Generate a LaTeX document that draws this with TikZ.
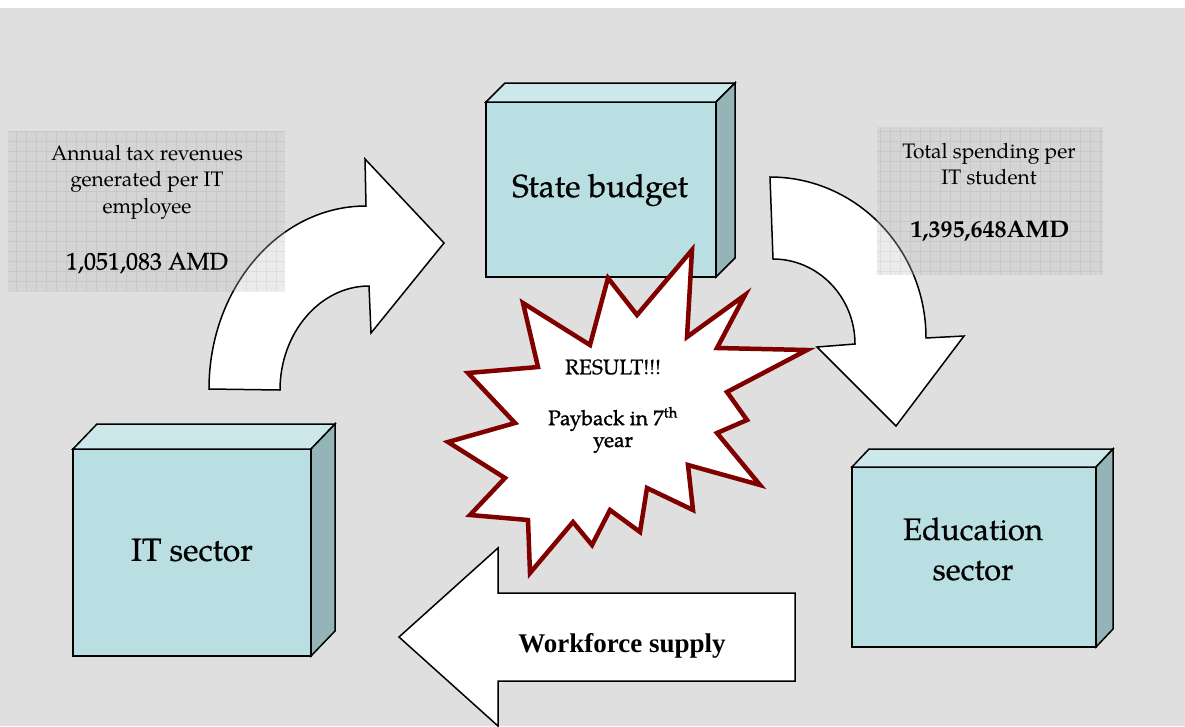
\documentclass[tikz,border=0pt]{standalone}
\usepackage{fontspec}
\setmainfont{TeX Gyre Pagella}
\newfontfamily\heavyfont{TeX Gyre Pagella}[FakeBold=0.6]
\newfontfamily\heavierfont{TeX Gyre Pagella}[FakeBold=1.2]
\newfontfamily\timesfont{Liberation Serif}
\usetikzlibrary{calc}

\definecolor{canvas}{HTML}{DFDFDF}
\definecolor{cubefront}{HTML}{B9DFE3}
\definecolor{cubetop}{HTML}{CCE8EB}
\definecolor{cubeside}{HTML}{94B4B7}
\definecolor{burst}{HTML}{800000}

\tikzset{
  face/.style={draw=black, line width=1.5pt, line join=miter},
  frontface/.style={face, fill=cubefront, rectangle, inner sep=0pt, outer sep=0pt},
  bigarrow/.style={draw=black, fill=white, line width=1.5pt, line join=miter},
  infobox/.style={rectangle, inner sep=0pt, outer sep=0pt, fill=black!25, fill opacity=0.3,
    path picture={\draw[black, line width=0.5pt, draw opacity=0.06]
      (path picture bounding box.south west) grid[step=10pt] (path picture bounding box.north east);}},
  cubelabel/.style={font=\heavyfont\fontsize{32}{38}\selectfont, align=center, inner sep=0pt},
  infotext/.style={font=\fontsize{21}{26.5}\selectfont, align=center, inner sep=0pt},
  burstline/.style={draw=burst, fill=white, line width=4.5pt, line join=miter},
  bursttext/.style={font=\heavyfont\fontsize{21}{24}\selectfont, align=center, inner sep=0pt}
}

% draws the top and right faces of a box whose front face is node #1
\newcommand{\cubedepth}[3]{%
  \draw[face, fill=cubetop] (#1.north west) -- ++(#2,-#3) -- ($(#1.north east)+(#2,-#3)$) -- (#1.north east) -- cycle;
  \draw[face, fill=cubeside] (#1.north east) -- ++(#2,-#3) -- ($(#1.south east)+(#2,-#3)$) -- (#1.south east) -- cycle;
}

\begin{document}
\begin{tikzpicture}[x=1pt, y=-1pt]
\useasboundingbox (0,0) rectangle (1185,726);
\fill[white] (0,0) rectangle (1185,726);
\fill[canvas] (0,8) rectangle (1185,726);

% curved arrow from the IT sector up to the state budget
\draw[bigarrow] (209,389) .. controls (209,288) and (279,206) .. (366,206)
  -- (365,159) -- (444,243) -- (371,333) -- (369,286)
  .. controls (320,286) and (280,333) .. (280,390) -- cycle;

% curved arrow from the state budget down to education
\draw[bigarrow] (770,177) .. controls (856,177) and (926,249) .. (926,338)
  -- (964,336) -- (896,426) -- (817,347) -- (855,344)
  .. controls (855,297) and (818,259) .. (773,259) -- cycle;

% straight arrow from education back to the IT sector
\draw[bigarrow] (399,637) -- (498,548) -- (498,593) -- (795,593) -- (795,681)
  -- (498,681) -- (498,726) -- cycle;
\node[font=\timesfont\bfseries\fontsize{27}{30}\selectfont, inner sep=0pt] (workforce) at (622,646) {Workforce supply};

% information panels
\node[infobox, minimum width=277pt, minimum height=160pt] (taxinfo) at (146.5,211) {};
\node[infobox, minimum width=226pt, minimum height=148pt] (costinfo) at (990,201) {};
\node[infotext] (taxtext) at (147,182) {Annual tax revenues\\generated per IT\\employee};
\node[infotext, font=\heavyfont\fontsize{24}{28}\selectfont] (taxvalue) at (147,263) {1,051,083 AMD};
\node[infotext] (costtext) at (989,164) {Total spending per\\IT student};
\node[infotext, font=\bfseries\fontsize{24}{28}\selectfont] (costvalue) at (990,231) {1,395,648AMD};

% boxes
\node[frontface, minimum width=230pt, minimum height=175pt] (budget) at (601,189.5) {};
\cubedepth{budget}{19}{19}
\node[cubelabel] (budgetlabel) at (600,190) {State budget};

\node[frontface, minimum width=238pt, minimum height=207pt] (itsector) at (192,552.5) {};
\cubedepth{itsector}{24}{25}
\node[cubelabel] (itlabel) at (192,550) {IT sector};

\node[frontface, minimum width=244pt, minimum height=180pt] (education) at (974,557) {};
\cubedepth{education}{17}{18}
\node[cubelabel, font=\heavyfont\fontsize{31}{40}\selectfont] (edulabel) at (973,549) {Education\\sector};

% result burst
\draw[burstline] (590,345) -- (608,278) -- (637,315) -- (692,250) -- (687,337)
  -- (745,295) -- (717,348) -- (807,350) -- (727,392) -- (747,420) -- (717,433)
  -- (760,485) -- (688,465) -- (693,510) -- (647,488) -- (640,532) -- (610,510)
  -- (592,545) -- (573,522) -- (530,573) -- (528,520) -- (470,515) -- (505,478)
  -- (448,442) -- (515,423) -- (468,373) -- (538,367) -- (523,303) -- cycle;
\node[bursttext] (result) at (613,367) {RESULT!!!};
\node[bursttext, font=\heavierfont\fontsize{21}{24}\selectfont] (payback) at (613,419) {Payback in 7\textsuperscript{th}};
\node[bursttext, font=\heavierfont\fontsize{21}{24}\selectfont] (year) at (613,445) {year};
\end{tikzpicture}
\end{document}
